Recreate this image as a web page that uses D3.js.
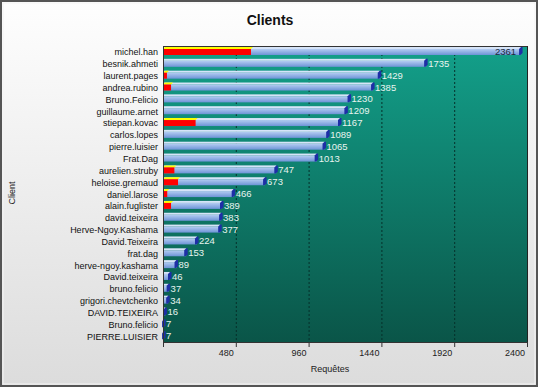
<!DOCTYPE html>
<html><head><meta charset="utf-8">
<script src="https://cdn.jsdelivr.net/npm/d3@7"></script>
<style>body{margin:0;background:#fff}svg{display:block}</style>
</head><body>
<script>
const categories = ["michel.han","besnik.ahmeti","laurent.pages","andrea.rubino","Bruno.Felicio","guillaume.arnet","stiepan.kovac","carlos.lopes","pierre.luisier","Frat.Dag","aurelien.struby","heloise.gremaud","daniel.larose","alain.fuglister","david.teixeira","Herve-Ngoy.Kashama","David.Teixeira","frat.dag","herve-ngoy.kashama","David.teixeira","bruno.felicio","grigori.chevtchenko","DAVID.TEIXEIRA","Bruno.felicio","PIERRE.LUISIER"];
const requests = [2361,1735,1429,1385,1230,1209,1167,1089,1065,1013,747,673,466,389,383,377,224,153,89,46,37,34,16,7,7];
const errors = [580,0,26,53,0,0,215,0,0,0,75,99,28,53,0,0,0,0,0,0,0,0,0,0,0];
const xTicks = [0,480,960,1440,1920,2400];

const W=539,H=388;
const m={l:163,r:527,t:46,b:342};
const svg=d3.select("body").append("svg").attr("width",W).attr("height",H);
const defs=svg.append("defs");
const bg=defs.append("linearGradient").attr("id","bg").attr("x1",0).attr("y1",0).attr("x2",0).attr("y2",1);
bg.append("stop").attr("offset","0").attr("stop-color","#fefefe");
bg.append("stop").attr("offset","1").attr("stop-color","#dcdcdc");
const pg=defs.append("linearGradient").attr("id","pg").attr("x1",0).attr("y1",0).attr("x2",0).attr("y2",1);
pg.append("stop").attr("offset","0").attr("stop-color","#13a08a");
pg.append("stop").attr("offset","1").attr("stop-color","#0a5548");
const bb=defs.append("linearGradient").attr("id","bb").attr("x1",0).attr("y1",0).attr("x2",0).attr("y2",1);
bb.append("stop").attr("offset","0").attr("stop-color","#b4cdf2");
bb.append("stop").attr("offset","1").attr("stop-color","#6d93d6");

svg.append("rect").attr("x",1).attr("y",1).attr("width",W-3).attr("height",H-3).attr("fill","url(#bg)").attr("stroke","#555").attr("stroke-width",2);
svg.append("rect").attr("x",3).attr("y",3).attr("width",W-7).attr("height",H-7).attr("fill","none").attr("stroke","#f4f4f4").attr("stroke-width",1);

const x=d3.scaleLinear().domain([0,2400]).range([m.l,m.r]);
const y=d3.scaleBand().domain(categories).range([m.t,m.b]);

svg.append("rect").attr("x",m.l).attr("y",m.t).attr("width",m.r-m.l).attr("height",m.b-m.t).attr("fill","url(#pg)");

// grid
svg.append("g").selectAll("line").data(xTicks.slice(1)).join("line")
  .attr("x1",d=>x(d)+0.5).attr("x2",d=>x(d)+0.5).attr("y1",m.t).attr("y2",m.b)
  .attr("stroke","#06302a").attr("stroke-dasharray","2,2").attr("stroke-width",1);

svg.append("text").attr("x",270).attr("y",25).attr("text-anchor","middle")
  .attr("font-family","Liberation Sans, Arial, sans-serif").attr("font-size",14).attr("font-weight","bold").attr("fill","#111").text("Clients");

const g=svg.append("g");
const rows=g.selectAll("g").data(categories.map((c,i)=>({c,v:requests[i],e:errors[i]}))).join("g")
  .attr("transform",d=>`translate(0,${y(d.c)})`);
// blue bar top face
rows.append("rect").attr("x",m.l).attr("y",1).attr("width",d=>Math.max(0,x(d.v)-m.l)).attr("height",2).attr("fill","#d6e4f8");
rows.append("rect").attr("x",m.l).attr("y",3).attr("width",d=>Math.max(0,x(d.v)-m.l)).attr("height",6).attr("fill","url(#bb)");
// end cap
rows.append("path").attr("d",d=>{const xe=x(d.v);return `M${xe-2},3 L${xe},1 L${xe+1.5},1 L${xe+1.5},7 L${xe-0.5},9 L${xe-2},9 Z`;}).attr("fill","#1e2fa6");
// red bars
const er=rows.filter(d=>d.e>0);
er.append("path").attr("d",d=>{const xe=x(d.e);return `M${m.l},3 L${m.l+2},1 L${xe+2},1 L${xe},3 Z`;}).attr("fill","#ffff00");
er.append("rect").attr("x",m.l).attr("y",3).attr("width",d=>x(d.e)-m.l).attr("height",6).attr("fill","#ff0000");
// value labels
rows.append("text")
  .attr("x",d=>d.v>2200?x(d.v)-5:x(d.v)+2)
  .attr("y",9)
  .attr("text-anchor",d=>d.v>2200?"end":"start")
  .attr("font-family","Liberation Sans, Arial, sans-serif").attr("font-size",9.5)
  .attr("fill",d=>d.v>2200?"#1a2a3a":"#e8f4f0").text(d=>d.v);

// category labels
svg.append("g").selectAll("text").data(categories).join("text")
  .attr("x",m.l-5).attr("y",d=>y(d)+y.bandwidth()/2+3.5).attr("text-anchor","end")
  .attr("font-family","Liberation Sans, Arial, sans-serif").attr("font-size",9).attr("fill","#111").text(d=>d);

// frame lines
svg.append("line").attr("x1",m.l).attr("x2",m.r+1).attr("y1",m.t+0.5).attr("y2",m.t+0.5).attr("stroke","#333");
svg.append("line").attr("x1",m.l).attr("x2",m.r+1).attr("y1",m.b+0.5).attr("y2",m.b+0.5).attr("stroke","#333");
svg.append("line").attr("x1",m.l+0.5).attr("x2",m.l+0.5).attr("y1",m.t).attr("y2",m.b+5).attr("stroke","#333");
svg.append("line").attr("x1",m.r+0.5).attr("x2",m.r+0.5).attr("y1",m.t).attr("y2",m.b).attr("stroke","#222");

// x axis ticks
const ax=svg.append("g");
ax.selectAll("line").data(xTicks).join("line").attr("x1",d=>x(d)+0.5).attr("x2",d=>x(d)+0.5).attr("y1",m.b).attr("y2",m.b+5).attr("stroke","#333");
ax.selectAll("text").data(xTicks.slice(1)).join("text").attr("x",d=>x(d)-2).attr("y",m.b+14).attr("text-anchor","end")
  .attr("font-family","Liberation Sans, Arial, sans-serif").attr("font-size",9).attr("fill","#222").text(d=>d);

svg.append("text").attr("x",330).attr("y",372).attr("text-anchor","middle")
  .attr("font-family","Liberation Sans, Arial, sans-serif").attr("font-size",9).attr("fill","#222").text("Requêtes");
svg.append("text").attr("transform","translate(15,193) rotate(-90)").attr("text-anchor","middle")
  .attr("font-family","Liberation Sans, Arial, sans-serif").attr("font-size",9).attr("fill","#222").text("Client");
</script>
</body></html>
